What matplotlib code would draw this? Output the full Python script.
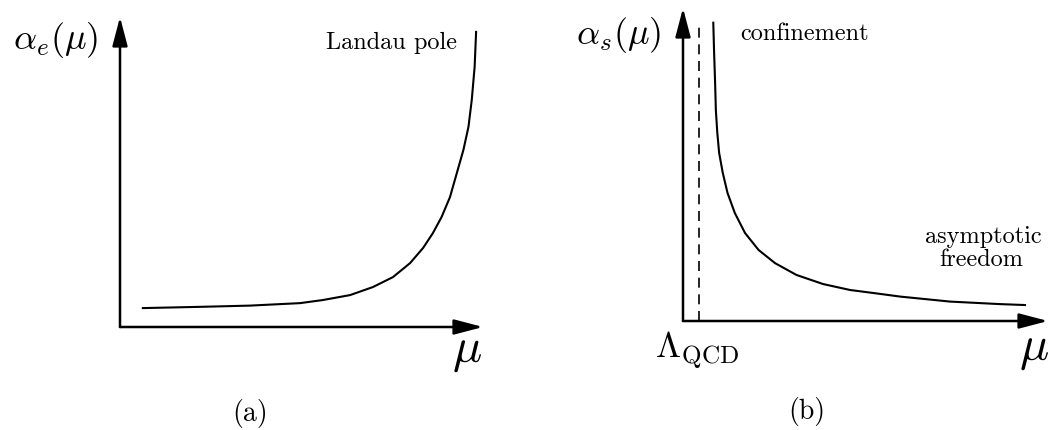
import matplotlib.pyplot as plt

plt.rcParams['mathtext.fontset'] = 'cm'
plt.rcParams['font.family'] = 'cmr10'

W, H = 1051, 430

# QED coupling: slow growth, then a pole at high scale
mu_e = [0.63, 2.20, 3.58, 4.96, 5.59, 6.34, 6.97, 7.52, 7.99, 8.35, 8.62,
        8.86, 9.09, 9.28, 9.46, 9.60, 9.69, 9.77, 9.81]
alpha_e = [0.61, 0.65, 0.69, 0.77, 0.87, 1.03, 1.29, 1.61, 2.06, 2.55, 3.03,
           3.55, 4.19, 4.97, 5.71, 6.46, 7.32, 8.40, 9.52]

# QCD coupling: blows up near Lambda, falls off at large scale
lambda_qcd = 0.44
mu_s = [0.83, 0.85, 0.88, 0.90, 0.94, 0.99, 1.09, 1.22, 1.42, 1.70, 2.07,
        2.52, 3.11, 3.84, 4.58, 5.31, 5.95, 7.32, 8.68, 9.37]
alpha_s = [9.53, 8.66, 7.60, 6.74, 6.01, 5.37, 4.73, 4.09, 3.45, 2.81, 2.27,
           1.85, 1.47, 1.18, 0.99, 0.88, 0.78, 0.62, 0.54, 0.51]


def px(x, y):
    # pixel position -> figure fraction
    return x / W, 1 - y / H


def panel(left, bottom, right, top):
    x0, y0 = px(left, bottom)
    x1, y1 = px(right, top)
    ax = fig.add_axes([x0, y0, x1 - x0, y1 - y0])
    ax.set_xlim(0, 10)
    ax.set_ylim(0, 10)
    ax.axis('off')
    arrow = dict(arrowstyle='-|>,head_length=1.6,head_width=0.42',
                 mutation_scale=11, lw=1.8, color='black',
                 shrinkA=0, shrinkB=0)
    ax.annotate('', xy=(1, 0), xytext=(0, 0), xycoords='axes fraction',
                arrowprops=arrow, annotation_clip=False)
    ax.annotate('', xy=(0, 1), xytext=(0, 0), xycoords='axes fraction',
                arrowprops=arrow, annotation_clip=False)
    return ax


fig = plt.figure(figsize=(W / 100, H / 100), dpi=100)

# (a) QED
ax_a = panel(120, 327, 483, 17)
ax_a.plot(mu_e, alpha_e, color='black', lw=1.5)

# (b) QCD
ax_b = panel(683, 321, 1048, 8)
ax_b.plot(mu_s, alpha_s, color='black', lw=1.5)
ax_b.plot([lambda_qcd, lambda_qcd], [0, 9.6], color='black', lw=1.2,
          dashes=(6, 4))

def label(x, y, s, size, **kw):
    fig.text(*px(x, y), s, fontsize=size, ha='center', va='center', **kw)

label(56, 40, r'$\alpha_e(\mu)$', 26)
label(467, 352, r'$\mu$', 35)
label(392, 43, 'Landau pole', 17.5)
label(250, 413, '(a)', 20)

label(619, 35, r'$\alpha_s(\mu)$', 26)
label(1034, 350, r'$\mu$', 35)
label(805, 34, 'confinement', 17.5)
label(983, 237, 'asymptotic', 17.5)
label(981, 260, 'freedom', 17.5)
label(697, 350, r'$\Lambda_{\mathrm{QCD}}$', 26)
label(807, 411, '(b)', 20)

fig.savefig('out.png', dpi=100)
